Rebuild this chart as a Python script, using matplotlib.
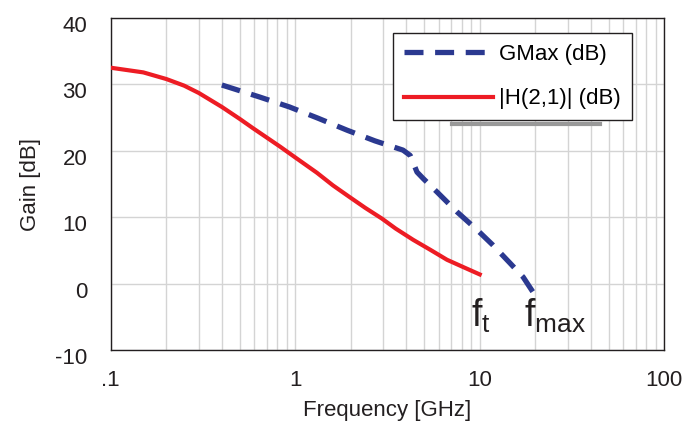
import numpy as np
import matplotlib
matplotlib.use('Agg')
import matplotlib.pyplot as plt
from matplotlib.transforms import ScaledTranslation

plt.rcParams['font.family'] = ['Liberation Sans', 'DejaVu Sans']
plt.rcParams['axes.unicode_minus'] = False

# |H(2,1)|
f_h21 = [0.1, 0.15, 0.2, 0.25, 0.3, 0.4, 0.5, 0.59, 0.7, 0.83, 1.0, 1.31, 1.6, 1.98, 2.4, 2.95, 3.5, 4.36, 5.4, 6.65, 8.3, 10.0]
g_h21 = [32.5, 31.8, 30.8, 29.8, 28.7, 26.6, 24.8, 23.4, 22.0, 20.6, 19.0, 16.7, 14.8, 13.0, 11.4, 9.8, 8.3, 6.6, 5.1, 3.6, 2.4, 1.4]

# GMax
f_gmax = [0.4, 0.64, 0.93, 1.33, 1.91, 2.7, 3.84, 4.2, 4.57, 4.95, 5.87, 7.54, 9.68, 11.8, 14.6, 17.2, 19.6]
g_gmax = [29.9, 28.1, 26.6, 24.9, 23.1, 21.5, 20.1, 19.3, 16.8, 15.8, 13.8, 10.8, 8.1, 5.8, 3.1, 1.0, -1.4]

x_ticks = [0.1, 1, 10, 100]
x_ticklabels = ['.1', '1', '10', '100']
y_ticks = [-10, 0, 10, 20, 30, 40]

fig = plt.figure(figsize=(6.84, 4.26), dpi=100)
ax = fig.add_axes([0.162, 0.178, 0.809, 0.780])

ax.plot(f_gmax, g_gmax, color='#2b3990', lw=3.8, dashes=(3.6, 2.2), label='GMax (dB)', zorder=3)
ax.plot(f_h21, g_h21, color='#ed1c24', lw=3.0, label='|H(2,1)| (dB)', zorder=3)

ax.set_xscale('log')
ax.set_xlim(0.1, 100)
ax.set_ylim(-10, 40)
ax.set_xticks(x_ticks)
ax.set_xticklabels(x_ticklabels)
ax.set_yticks(y_ticks)
ax.xaxis.set_minor_locator(matplotlib.ticker.LogLocator(base=10, subs=np.arange(2, 10)))
ax.xaxis.set_minor_formatter(matplotlib.ticker.NullFormatter())
ax.grid(True, which='both', color='#d4d4d4', lw=1.0)
ax.set_axisbelow(True)
ax.tick_params(which='both', length=0, labelsize=16, colors='#231f20')
ax.tick_params(axis='x', pad=14)
ax.tick_params(axis='y', pad=17)
for lab in ax.get_yticklabels():
    lab.set_transform(lab.get_transform() + ScaledTranslation(0, -0.06, fig.dpi_scale_trans))
for s in ax.spines.values():
    s.set_color('#231f20')
    s.set_linewidth(1.0)

ax.set_xlabel('Frequency [GHz]', fontsize=16, color='#231f20', labelpad=7)
ax.set_ylabel('Gain [dB]', fontsize=16, color='#231f20', labelpad=10)

ax.text(10.2, -6.5, r'$\mathregular{f_t}$', fontsize=27, ha='center', va='baseline', color='#231f20')
ax.text(25.6, -6.5, r'$\mathregular{f_{max}}$', fontsize=27, ha='center', va='baseline', color='#231f20')

leg = ax.legend(loc='upper right', bbox_to_anchor=(0.942, 0.955), borderaxespad=0,
                fontsize=16, frameon=True, fancybox=False, handlelength=4.0,
                labelspacing=1.05, borderpad=0.5, handletextpad=0.3)
leg.get_frame().set_edgecolor('#231f20')
leg.get_frame().set_linewidth(1.0)
leg.get_frame().set_alpha(1)
ax.plot([0.617, 0.884], [0.682, 0.682], transform=ax.transAxes, color='#999999', lw=3, zorder=2)

fig.savefig('out.png', dpi=100)
